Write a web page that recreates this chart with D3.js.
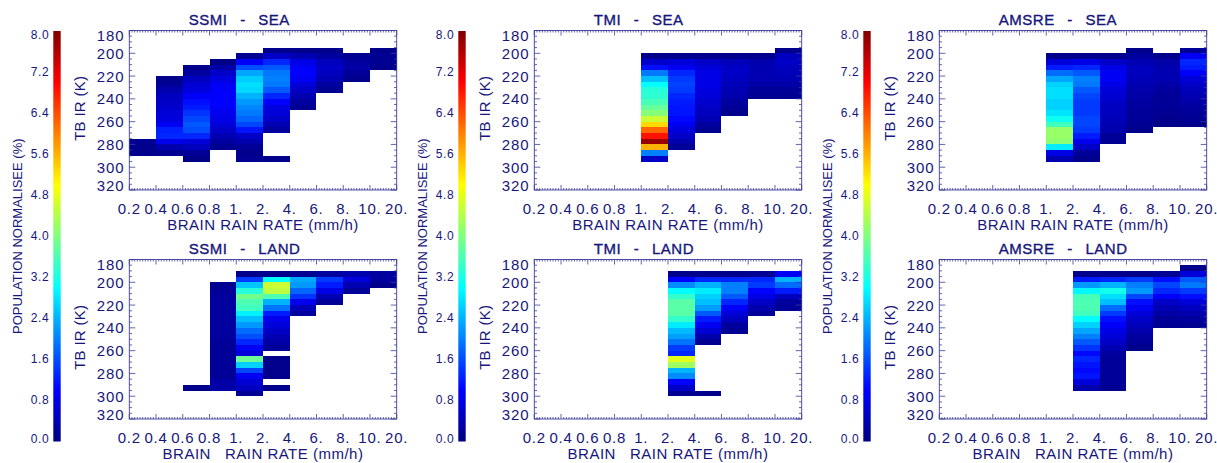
<!DOCTYPE html>
<html><head><meta charset="utf-8">
<script src="https://cdn.jsdelivr.net/npm/d3@7"></script>
<style>
body{margin:0;background:#fff}
svg{display:block;font-family:"Liberation Sans",Arial,Helvetica,sans-serif}
</style>
</head><body>
<svg id="chart" width="1217" height="463"></svg>
<script>
// ---------- data ----------
const rateLabels = ["0.2","0.4","0.6","0.8","1.","2.","4.","6.","8.","10.","20."];
const tbTicks = [180,200,220,240,260,280,300,320];
const cbTicks = [0,0.8,1.6,2.4,3.2,4.0,4.8,5.6,6.4,7.2,8.0];
const tbStep = 5;

// [lower rain-rate label, first TB bin (K), values (%) per 5 K bin]
const ssmiSea = [
  ["0.2", 275, [0.15,0.12,0.1]],
  ["0.4", 220, [0.1,0.2,0.35,0.5,0.55,0.6,0.7,0.75,0.9,1.25,1.3,0.85,0.35,0.15]],
  ["0.6", 210, [0.1,0.25,0.5,0.65,0.75,0.95,1.1,1.2,1.4,1.55,1.7,1.6,1.3,0.7,0.5,0.2,0.05]],
  ["0.8", 205, [0.05,0.3,0.55,0.75,0.9,0.95,1.0,1.0,0.95,0.85,0.8,0.7,0.55,0.4,0.25,0.15]],
  ["1.", 200, [0.15,0.95,1.6,2.3,2.6,2.75,2.7,2.4,2.2,2.05,1.95,1.8,1.55,1.15,0.55,0.35,0.2,0.1,0.15]],
  ["2.", 195, [0.1,0.55,1.3,1.7,1.95,2.0,1.95,1.7,1.3,1.0,0.75,0.7,0.55,0.4,0.25]],
  ["2.", 290, [0.1]],
  ["4.", 195, [0.1,0.4,0.8,0.95,1.0,0.9,0.7,0.55,0.4,0.25,0.15]],
  ["6.", 195, [0.1,0.25,0.5,0.55,0.5,0.4,0.25,0.15]],
  ["8.", 200, [0.15,0.25,0.3,0.2,0.1]],
  ["10.", 195, [0.1,0.15,0.15,0.1]]
];
const tmiSea = [
  ["1.", 200, [0.1,0.6,1.1,1.95,2.5,3.0,3.3,3.35,3.55,3.8,4.05,4.6,5.3,6.2,6.85,7.8,5.6,2.0,0.55]],
  ["2.", 200, [0.1,0.7,0.9,1.3,1.45,1.5,1.45,1.3,1.2,1.15,1.15,1.05,0.9,0.75,0.55,0.35,0.2]],
  ["4.", 200, [0.1,0.55,0.7,0.8,0.8,0.8,0.75,0.7,0.6,0.55,0.5,0.4,0.25,0.15]],
  ["6.", 200, [0.1,0.45,0.55,0.55,0.5,0.45,0.4,0.35,0.25,0.2,0.1]],
  ["8.", 200, [0.1,0.35,0.4,0.4,0.4,0.3,0.2,0.15]],
  ["10.", 195, [0.1,0.5,0.55,0.5,0.45,0.4,0.3,0.2,0.15]]
];
const amsreSea = [
  ["1.", 200, [0.1,0.7,1.2,1.85,2.3,2.65,2.75,2.75,2.65,2.65,2.8,3.1,3.5,4.2,4.2,4.1,2.85,0.8,0.4]],
  ["2.", 200, [0.1,0.8,1.3,1.7,2.0,1.95,1.7,1.55,1.45,1.45,1.45,1.55,1.55,1.45,1.2,0.85,0.55,0.2,0.1]],
  ["4.", 200, [0.1,0.55,0.8,0.9,0.9,0.8,0.7,0.65,0.55,0.5,0.5,0.45,0.4,0.35,0.2,0.15]],
  ["6.", 195, [0.1,0.25,0.4,0.5,0.5,0.45,0.4,0.35,0.3,0.25,0.25,0.2,0.2,0.15,0.1]],
  ["8.", 200, [0.1,0.3,0.4,0.4,0.4,0.3,0.25,0.2,0.2,0.2,0.15,0.1,0.1]],
  ["10.", 195, [0.2,0.9,1.3,1.2,0.95,0.7,0.55,0.45,0.4,0.3,0.25,0.2,0.15,0.1]]
];
const ssmiLand = [
  ["0.6", 290, [0.1]],
  ["0.8", 200, [0.15,0.2,0.25,0.25,0.25,0.25,0.25,0.25,0.25,0.25,0.2,0.2,0.2,0.2,0.2,0.2,0.2,0.3,0.3]],
  ["1.", 190, [0.1,1.45,2.55,3.3,3.9,3.6,3.5,2.9,2.5,2.2,1.85,1.6,1.3,0.9,0.7,3.85,2.65,1.55,0.9,0.65,0.5,0.15]],
  ["2.", 190, [0.1,3.0,4.6,4.5,3.6,2.4,1.9,1.2,0.85,0.7,0.55,0.4,0.3,0.2]],
  ["2.", 265, [0.1,0.1,0.1,0.1]],
  ["2.", 290, [0.1]],
  ["4.", 190, [0.15,2.3,2.2,1.8,1.4,0.85,0.45,0.25]],
  ["6.", 190, [0.25,1.45,1.2,0.8,0.4,0.2]],
  ["8.", 190, [0.35,0.7,0.4,0.2]],
  ["10.", 190, [0.25,0.25,0.1]]
];
const tmiLand = [
  ["2.", 190, [0.1,1.0,2.1,3.0,3.4,3.7,3.7,3.7,3.4,2.85,2.45,2.25,1.9,1.45,1.3,4.8,4.25,2.4,2.1,1.0,0.55,0.15]],
  ["4.", 190, [0.1,1.3,2.4,2.85,2.65,2.5,2.25,1.7,1.2,0.9,0.65,0.35,0.15]],
  ["4.", 295, [0.1]],
  ["6.", 190, [0.1,1.3,2.0,2.0,1.7,1.3,0.95,0.7,0.5,0.25,0.15]],
  ["8.", 190, [0.15,1.3,1.45,1.0,0.8,0.55,0.35,0.2]],
  ["10.", 190, [0.9,2.4,1.85,1.2,0.5,0.25,0.2]]
];
const amsreLand = [
  ["2.", 190, [0.1,1.2,2.2,2.95,3.55,3.6,3.6,3.5,3.0,2.65,2.3,2.0,1.7,1.4,1.05,1.3,1.15,1.05,1.15,0.7,0.35]],
  ["4.", 190, [0.1,1.3,2.4,3.15,2.75,2.5,1.85,1.45,1.1,0.95,0.8,0.7,0.55,0.4,0.25,0.2,0.2,0.2,0.2,0.2,0.15]],
  ["6.", 190, [0.1,1.45,2.0,2.2,1.55,1.1,0.9,0.7,0.55,0.45,0.35,0.25,0.2,0.1]],
  ["8.", 190, [0.15,1.1,1.55,1.3,0.95,0.55,0.4,0.3,0.2,0.15]],
  ["10.", 185, [0.1,0.7,1.7,1.95,1.45,1.1,0.7,0.5,0.35,0.25,0.15]]
];

const panelTitles = [["SSMI - SEA","TMI - SEA","AMSRE - SEA"],["SSMI - LAND","TMI - LAND","AMSRE - LAND"]];
const panelData = [[ssmiSea, tmiSea, amsreSea],[ssmiLand, tmiLand, amsreLand]];
const xTitles = ["BRAIN RAIN RATE (mm/h)", "BRAIN   RAIN RATE (mm/h)"];
const yTitle = "TB IR (K)";
const cbTitle = "POPULATION NORMALISEE (%)";

// ---------- layout ----------
const colLeft = [129.3, 534.3, 939.3];
const plotW = 267.4;
const rowTop = [30.5, 259.5];
const plotH = 159.5;
const cbX = [53.3, 458.3, 863.3];
const cbW = 7.4, cbTop = 31, cbBottom = 441.5;
const ink = "#16167c";
const lineCol = "#3c3c9c";

const svg = d3.select("#chart");

function jet(t){
  const c = v => Math.max(0, Math.min(1, v));
  return d3.rgb(255*c(1.5-Math.abs(4*t-3)), 255*c(1.5-Math.abs(4*t-2)), 255*c(1.5-Math.abs(4*t-1))).formatHex();
}
const color = d3.scaleSequential(jet).domain([0, 8]);

// gradient for colorbar
const defs = svg.append("defs");
const grad = defs.append("linearGradient").attr("id","jetgrad")
  .attr("x1",0).attr("y1",1).attr("x2",0).attr("y2",0);
d3.range(0, 1.0001, 0.025).forEach(t => grad.append("stop").attr("offset", t).attr("stop-color", jet(t)));

// ---------- colorbars ----------
const cbScale = d3.scaleLinear().domain([0, 8]).range([cbBottom, cbTop]);
cbX.forEach(cx => {
  const g = svg.append("g");
  g.append("rect").attr("x", cx).attr("y", cbTop).attr("width", cbW).attr("height", cbBottom - cbTop)
    .attr("fill", "url(#jetgrad)");
  g.selectAll("text.cb").data(cbTicks).join("text")
    .attr("x", cx - 4)
    .attr("y", d => cbScale(d) + (d === 8 ? 4 : d === 0 ? -3 : 0))
    .attr("text-anchor", "end").attr("dominant-baseline", "central")
    .attr("font-size", 12).attr("letter-spacing", 0.6).attr("fill", ink)
    .text(d => d3.format(".1f")(d));
  g.append("text")
    .attr("transform", `translate(${cx - 36},${(cbTop + cbBottom) / 2}) rotate(-90)`)
    .attr("text-anchor", "middle").attr("dominant-baseline", "central")
    .attr("font-size", 13).attr("fill", ink).text(cbTitle);
});

// ---------- panels ----------
panelData.forEach((rowData, r) => {
  rowData.forEach((cells, c) => {
    const x0 = colLeft[c], y0 = rowTop[r];
    const x = d3.scalePoint().domain(rateLabels).range([x0, x0 + plotW]);
    const y = d3.scaleLinear().domain([180, 320]).range([y0, y0 + plotH]);
    const g = svg.append("g");

    // heat cells
    const flat = [];
    cells.forEach(([lo, tb0, vals]) => {
      const i = rateLabels.indexOf(lo);
      vals.forEach((v, k) => flat.push({lo, hi: rateLabels[i + 1], tb: tb0 + k * tbStep, v}));
    });
    g.append("g").attr("shape-rendering", "crispEdges")
      .selectAll("rect").data(flat).join("rect")
      .attr("x", d => x(d.lo)).attr("width", d => x(d.hi) - x(d.lo))
      .attr("y", d => y(d.tb)).attr("height", d => y(d.tb + tbStep) - y(d.tb))
      .attr("fill", d => color(d.v));

    // frame
    g.append("rect").attr("x", x0).attr("y", y0).attr("width", plotW).attr("height", plotH)
      .attr("fill", "none").attr("stroke", lineCol).attr("stroke-width", 0.9);

    // y ticks (left & right, inward)
    const yMinor = d3.range(180, 321, 5);
    const tk = g.append("g").attr("stroke", lineCol).attr("stroke-width", 0.8);
    yMinor.forEach(v => {
      const len = v % 20 === 0 ? 6 : 2.7;
      tk.append("line").attr("x1", x0).attr("x2", x0 + len).attr("y1", y(v)).attr("y2", y(v));
      tk.append("line").attr("x1", x0 + plotW).attr("x2", x0 + plotW - len).attr("y1", y(v)).attr("y2", y(v));
    });
    // x ticks (top & bottom, inward)
    rateLabels.forEach((lab, i) => {
      const xa = x(lab);
      tk.append("line").attr("x1", xa).attr("x2", xa).attr("y1", y0 + plotH).attr("y2", y0 + plotH - 5);
      tk.append("line").attr("x1", xa).attr("x2", xa).attr("y1", y0).attr("y2", y0 + 5);
      if (i < rateLabels.length - 1) {
        const xb = x(rateLabels[i + 1]);
        for (let k = 1; k < 10; k++) {
          const xm = xa + (xb - xa) * k / 10;
          tk.append("line").attr("x1", xm).attr("x2", xm).attr("y1", y0 + plotH).attr("y2", y0 + plotH - 2);
          tk.append("line").attr("x1", xm).attr("x2", xm).attr("y1", y0).attr("y2", y0 + 2);
        }
      }
    });

    // y tick labels
    g.selectAll("text.yl").data(tbTicks).join("text")
      .attr("x", x0 - 5)
      .attr("y", d => y(d) + (d === 180 ? 4.5 : d === 320 ? -4.5 : 0))
      .attr("text-anchor", "end").attr("dominant-baseline", "central")
      .attr("font-size", 15).attr("letter-spacing", 0.8).attr("fill", ink)
      .text(d => d);
    // x tick labels
    g.selectAll("text.xl").data(rateLabels).join("text")
      .attr("x", d => x(d)).attr("y", y0 + plotH + 18)
      .attr("text-anchor", "middle").attr("dominant-baseline", "central")
      .attr("font-size", 15).attr("letter-spacing", 0.8).attr("fill", ink)
      .text(d => d);
    // x title
    g.append("text").attr("x", x0 + plotW / 2).attr("y", y0 + plotH + 34)
      .attr("text-anchor", "middle").attr("dominant-baseline", "central")
      .attr("font-size", 15).attr("letter-spacing", 0.5).attr("fill", ink)
      .style("white-space", "pre").text(xTitles[r]);
    // y title
    g.append("text")
      .attr("transform", `translate(${x0 - 50},${y0 + plotH / 2 - 2}) rotate(-90)`)
      .attr("text-anchor", "middle").attr("dominant-baseline", "central")
      .attr("font-size", 15).attr("letter-spacing", 0.3).attr("fill", ink).text(yTitle);
    // panel title (left-aligned at a fixed offset, as in the original)
    g.append("text").attr("x", x0 + 59.5).attr("y", y0 - 11)
      .attr("text-anchor", "start").attr("dominant-baseline", "central")
      .attr("font-size", 15).attr("letter-spacing", 0.5).attr("word-spacing", 8)
      .attr("fill", ink).attr("stroke", ink).attr("stroke-width", 0.35)
      .text(panelTitles[r][c]);
  });
});
</script>
</body></html>
